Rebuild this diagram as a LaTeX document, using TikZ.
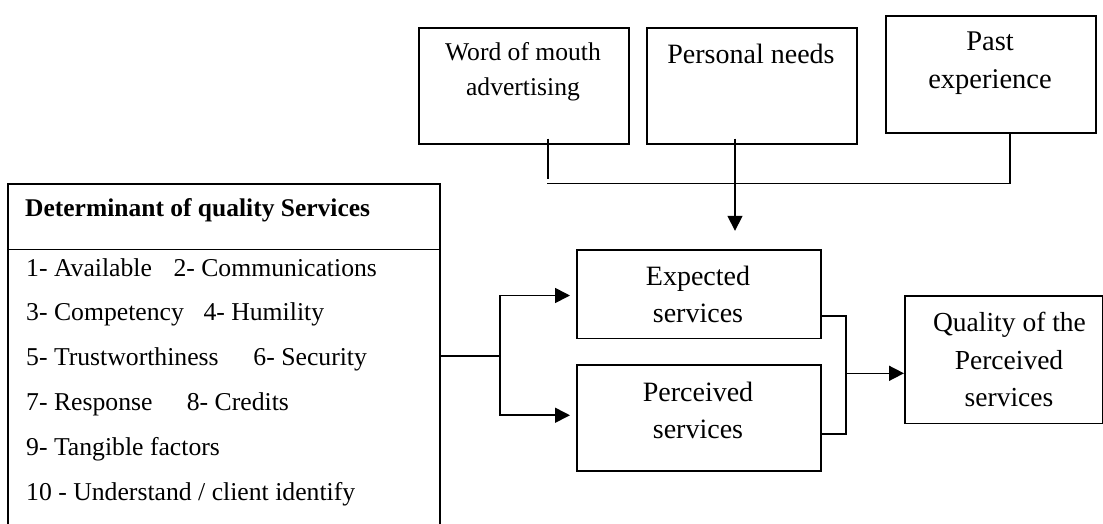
\documentclass[tikz,border=0pt]{standalone}
\usepackage{fontspec}
\setmainfont{Liberation Serif}
\usetikzlibrary{arrows.meta}
\begin{document}
\begin{tikzpicture}[x=1pt,y=-1pt,
  ln/.style={line width=1.6pt},
  box/.style={draw,line width=1.6pt,inner sep=0pt,anchor=north west},
  arr/.style={line width=1.6pt,-{Triangle[length=15pt,width=15pt]}},
  txt/.style={anchor=base,inner sep=0pt},
  ltxt/.style={anchor=base west,inner sep=0pt},
  fa/.style={font=\fontsize{28}{30}\selectfont},
  fb/.style={font=\fontsize{25.6}{28}\selectfont},
  fl/.style={font=\fontsize{25.7}{28}\selectfont}]
\useasboundingbox (0,0) rectangle (1103,523);
\clip (0,0) rectangle (1103,523);
% boxes
\node[box,minimum width=210pt,minimum height=116pt] (wom) at (418,27) {};
\node[box,minimum width=210pt,minimum height=116pt] (pn) at (646,27) {};
\node[box,minimum width=210pt,minimum height=117pt] (past) at (885,15) {};
\node[box,minimum width=431.7pt,minimum height=347pt] (det) at (7.3,183.3) {};
\node[box,minimum width=244pt,minimum height=88.2pt] (exp) at (576,249.3) {};
\node[box,minimum width=244pt,minimum height=105.7pt] (per) at (576,364.3) {};
\node[box,minimum width=198pt,minimum height=127.7pt] (q) at (904,295) {};
\draw[ln] (7.3,249.3) -- (439,249.3);
% texts
\node[txt,fb] at (523,60) {Word of mouth};
\node[txt,fb] at (523,95) {advertising};
\node[txt,fa] at (751,63.3) {Personal needs};
\node[txt,font=\fontsize{28.5}{30}\selectfont] at (990,50.7) {Past};
\node[txt,font=\fontsize{28.5}{30}\selectfont] at (990,88.3) {experience};
\node[txt,fa] at (698,285) {Expected};
\node[txt,fa] at (698,322.3) {services};
\node[txt,fa] at (698,401) {Perceived};
\node[txt,fa] at (698,438.3) {services};
\node[txt,font=\fontsize{27.5}{30}\selectfont] at (1009.5,331.7) {Quality of the};
\node[txt,font=\fontsize{27.5}{30}\selectfont] at (1009,369) {Perceived};
\node[txt,font=\fontsize{27.5}{30}\selectfont] at (1009,406.7) {services};
\node[ltxt,font=\fontsize{25.5}{28}\selectfont\bfseries] at (25,216.7) {Determinant of quality Services};
\node[ltxt,fl] at (26,276) {\makebox[147.3pt][l]{1- Available}2- Communications};
\node[ltxt,fl] at (26,320.7) {\makebox[177.3pt][l]{3- Competency}4- Humility};
\node[ltxt,fl] at (26,365) {\makebox[227.3pt][l]{5- Trustworthiness}6- Security};
\node[ltxt,fl] at (26,410) {\makebox[160.7pt][l]{7- Response}8- Credits};
\node[ltxt,fl] at (26,455) {9- Tangible factors};
\node[ltxt,fl] at (26,500) {10 - Understand / client identify};
% connectors
\coordinate (womx) at (548,0);
\coordinate (pnx) at (735,0);
\coordinate (busL) at (547,183.3);
\coordinate (busR) at (1010,183.3);
\draw[ln] ([yshift=6pt]wom.south -| womx) -- ++(0,40);
\draw[ln] (busL) -- (busR) -- (busR |- past.south);
\draw[arr] ([yshift=6pt]pn.south -| pnx) -- ([yshift=18.5pt]exp.north -| pnx);
\coordinate (br) at (500,356);
\draw[ln] (det.east |- br) -- (br);
\draw[arr] (br) |- ([xshift=-6pt,yshift=-1.3pt]exp.west);
\draw[arr] (br) |- ([xshift=-6pt,yshift=2.7pt]per.west);
\coordinate (mg) at (845.7,373.3);
\draw[ln] ([yshift=-21.6pt]exp.east) -| (mg);
\draw[ln] ([yshift=-16.3pt]per.east) -| (mg);
\draw[arr] (mg) -- (mg -| q.west);
\end{tikzpicture}
\end{document}
